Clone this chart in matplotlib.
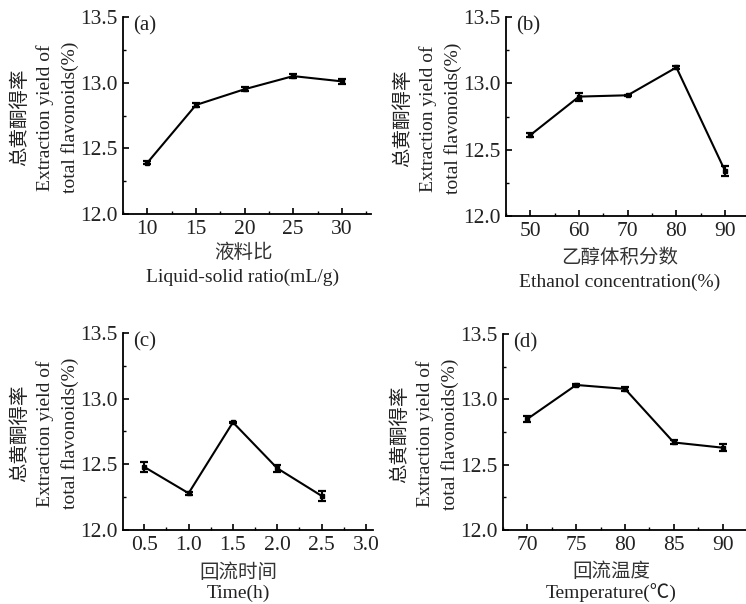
import matplotlib
matplotlib.use("Agg")
import matplotlib.pyplot as plt
from matplotlib.ticker import MultipleLocator, FormatStrFormatter

plt.rcParams['font.family'] = ['Liberation Serif', 'Noto Sans CJK SC']

# ---------------- data ----------------
ratio_x = [10, 15, 20, 25, 30]
ratio_y = [12.39, 12.83, 12.95, 13.05, 13.01]
ratio_err = [0.01, 0.015, 0.015, 0.015, 0.02]

ethanol_x = [50, 60, 70, 80, 90]
ethanol_y = [12.61, 12.90, 12.91, 13.12, 12.34]
ethanol_err = [0.015, 0.03, 0.005, 0.01, 0.035]

time_x = [0.5, 1.0, 1.5, 2.0, 2.5]
time_y = [12.48, 12.28, 12.82, 12.47, 12.26]
time_err = [0.04, 0.01, 0.005, 0.025, 0.04]

temp_x = [70, 75, 80, 85, 90]
temp_y = [12.85, 13.11, 13.08, 12.67, 12.63]
temp_err = [0.02, 0.01, 0.015, 0.015, 0.025]

ylabel_text = "总黄酮得率\nExtraction yield of\ntotal flavonoids(%)"

W, H = 746, 604
fig = plt.figure(figsize=(W / 100, H / 100), dpi=100)


def fx(x):
    return x / W


def fy(y):
    return 1 - y / H


panels = [
    dict(x=ratio_x, y=ratio_y, e=ratio_err, left=123, right=371, top=17, bottom=214,
         xlim=(7.5, 33.0), major=5, minor=2.5, fmt='%d', tag='(a)',
         cn='液料比', en='Liquid-solid ratio(mL/g)', lx=243, cny=253, eny=277),
    dict(x=ethanol_x, y=ethanol_y, e=ethanol_err, left=506, right=746, top=17, bottom=216,
         xlim=(45, 94.3), major=10, minor=5, fmt='%d', tag='(b)',
         cn='乙醇体积分数', en='Ethanol concentration(%)', lx=620, cny=258, eny=282),
    dict(x=time_x, y=time_y, e=time_err, left=123, right=373, top=333, bottom=530,
         xlim=(0.26, 3.08), major=0.5, minor=0.25, fmt='%.1f', tag='(c)',
         cn='回流时间', en='Time(h)', lx=238, cny=573, eny=593),
    dict(x=temp_x, y=temp_y, e=temp_err, left=503, right=746, top=334, bottom=530,
         xlim=(67.5, 92.4), major=5, minor=2.5, fmt='%d', tag='(d)',
         cn='回流温度', en='Temperature(℃)', lx=611, cny=572, eny=593),
]

for p in panels:
    ax = fig.add_axes([fx(p['left']), fy(p['bottom']),
                       (p['right'] - p['left']) / W, (p['bottom'] - p['top']) / H])
    ax.errorbar(p['x'], p['y'], yerr=p['e'], fmt='-', color='black', lw=1.5,
                marker='s', ms=3, elinewidth=1.5, capsize=3.2, capthick=1.6)
    ax.set_xlim(*p['xlim'])
    ax.set_ylim(12.0, 13.5)
    ax.xaxis.set_major_locator(MultipleLocator(p['major']))
    ax.xaxis.set_minor_locator(MultipleLocator(p['minor']))
    ax.xaxis.set_major_formatter(FormatStrFormatter(p['fmt']))
    ax.yaxis.set_major_locator(MultipleLocator(0.5))
    ax.yaxis.set_minor_locator(MultipleLocator(0.25))
    ax.yaxis.set_major_formatter(FormatStrFormatter('%.1f'))
    for s in ('top', 'right'):
        ax.spines[s].set_visible(False)
    for s in ('left', 'bottom'):
        ax.spines[s].set_linewidth(1.3)
    ax.tick_params(which='major', direction='in', length=4, width=1.2,
                   labelsize=15.5, pad=4, labelcolor='#222222')
    ax.tick_params(which='minor', direction='in', length=2.5, width=1.0)

    fig.text(fx(p['left'] + 10), fy(p['top'] + 9), p['tag'], fontsize=15,
             ha='left', va='center', color='#222222')
    fig.text(fx(p['lx']), fy(p['cny']), p['cn'], fontsize=14, ha='center', va='center',
             color='#333333')
    fig.text(fx(p['lx']), fy(p['eny']), p['en'], fontsize=14, ha='center', va='center',
             color='#222222')
    fig.text(fx(p['left'] - 78), fy((p['top'] + p['bottom']) / 2 + 2), ylabel_text,
             rotation=90, fontsize=14, ha='center', va='center', ma='center',
             linespacing=1.5, color='#222222')

fig.savefig('out.png', dpi=100)
